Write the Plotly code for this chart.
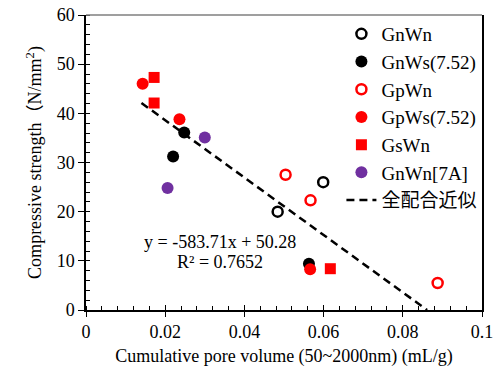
import numpy as np
import plotly.graph_objects as go

# Pore volume (mL/g) vs compressive strength (N/mm2) per mix series
gnwn_x = [0.0484, 0.0599]
gnwn_y = [20.0, 26.0]
gnws_x = [0.0248, 0.0220, 0.0563]
gnws_y = [36.1, 31.2, 9.4]
gpwn_x = [0.0504, 0.0567, 0.0888]
gpwn_y = [27.5, 22.3, 5.5]
gpws_x = [0.0143, 0.0236, 0.0566]
gpws_y = [46.0, 38.8, 8.3]
gswn_x = [0.0172, 0.0172, 0.0617]
gswn_y = [47.3, 42.1, 8.4]
gnwn7a_x = [0.0300, 0.0206]
gnwn7a_y = [35.1, 24.8]

# Linear fit over all mixes
slope = -583.71
intercept = 50.28
r2 = 0.7652
fit_x_start = 0.0140
fit_x_end = -intercept / slope

FONT = "Liberation Serif, Times New Roman, Noto Sans CJK JP, serif"
RED = "#FF0000"
PURPLE = "#7030A0"

fig = go.Figure()

def add_series(name, xs, ys, symbol, color, size, lw=0):
    fig.add_trace(go.Scatter(
        x=xs, y=ys, mode="markers", name=name, legendgroup=name,
        marker=dict(symbol=symbol, color=color, size=size,
                    line=dict(width=lw, color=color)),
    ))

add_series("GnWn", gnwn_x, gnwn_y, "circle-open", "black", 10, 2.5)
add_series("GnWs(7.52)", gnws_x, gnws_y, "circle", "black", 12)
add_series("GpWn", gpwn_x, gpwn_y, "circle-open", RED, 10, 2.5)
add_series("GpWs(7.52)", gpws_x, gpws_y, "circle", RED, 12)
add_series("GsWn", gswn_x, gswn_y, "square", RED, 11)
add_series("GnWn[7A]", gnwn7a_x, gnwn7a_y, "circle", PURPLE, 12)

fx = np.array([fit_x_start, fit_x_end])
fig.add_trace(go.Scatter(
    x=fx, y=slope * fx + intercept, mode="lines", name="全配合近似",
    legendgroup="fit",
    line=dict(color="black", width=2.5, dash="8px,5px"),
))

# Overlay axes carry the inward half of the major ticks
fig.add_trace(go.Scatter(x=[0.05], y=[30], xaxis="x2", yaxis="y2", mode="markers",
                         marker=dict(opacity=0), showlegend=False, hoverinfo="skip"))

axis_common = dict(showgrid=False, zeroline=False, automargin=False,
                   tickfont=dict(family=FONT, size=18, color="black"))

fig.update_layout(
    width=495, height=367,
    margin=dict(l=86, r=13, t=15, b=57),
    paper_bgcolor="white", plot_bgcolor="white",
    font=dict(family=FONT, size=18, color="black"),
    xaxis=dict(
        range=[0, 0.1], dtick=0.02, tickformat="~g",
        showline=True, linecolor="black", linewidth=1.5,
        ticks="outside", ticklen=5, tickwidth=1.2, tickcolor="black",
        minor=dict(dtick=0.004, ticks="inside", ticklen=4, tickcolor="black", tickwidth=1),
        title=dict(text="Cumulative pore volume (50~2000nm) (mL/g)",
                   font=dict(family=FONT, size=18), standoff=10),
        **axis_common,
    ),
    yaxis=dict(
        range=[0, 60], dtick=10,
        showline=True, linecolor="black", linewidth=1.5, mirror=True,
        ticks="outside", ticklen=6, tickwidth=1.2, tickcolor="black",
        minor=dict(dtick=2, ticks="inside", ticklen=4, tickcolor="black", tickwidth=1),
        title=dict(text="Compressive strength（N/mm<sup>2</sup>)",
                   font=dict(family=FONT, size=18), standoff=10),
        **axis_common,
    ),
    xaxis2=dict(overlaying="x", range=[0, 0.1], dtick=0.02, ticks="inside",
                ticklen=5, tickwidth=1.2, tickcolor="black", automargin=False,
                showticklabels=False, showline=False, showgrid=False, zeroline=False),
    yaxis2=dict(overlaying="y", range=[0, 60], dtick=10, ticks="inside",
                ticklen=4, tickwidth=1.2, tickcolor="black", automargin=False,
                showticklabels=False, showline=False, showgrid=False, zeroline=False),
    legend=dict(
        x=0.645, y=1.0, xanchor="left", yanchor="top",
        bgcolor="rgba(255,255,255,0)", borderwidth=0,
        font=dict(family=FONT, size=19, color="black"),
        tracegroupgap=0,
    ),
    showlegend=True,
)

# Gray top frame
fig.add_shape(type="line", xref="paper", yref="paper", x0=0, x1=1, y0=1, y1=1,
              line=dict(color="#7f7f7f", width=1.5))

fig.add_annotation(x=0.0338, y=13.9, xref="x", yref="y", showarrow=False,
                   text=f"y = {slope}x + {intercept}",
                   font=dict(family=FONT, size=18, color="black"))
fig.add_annotation(x=0.0338, y=9.8, xref="x", yref="y", showarrow=False,
                   text=f"R² = {r2}",
                   font=dict(family=FONT, size=18, color="black"))

fig.write_html("out.html")
